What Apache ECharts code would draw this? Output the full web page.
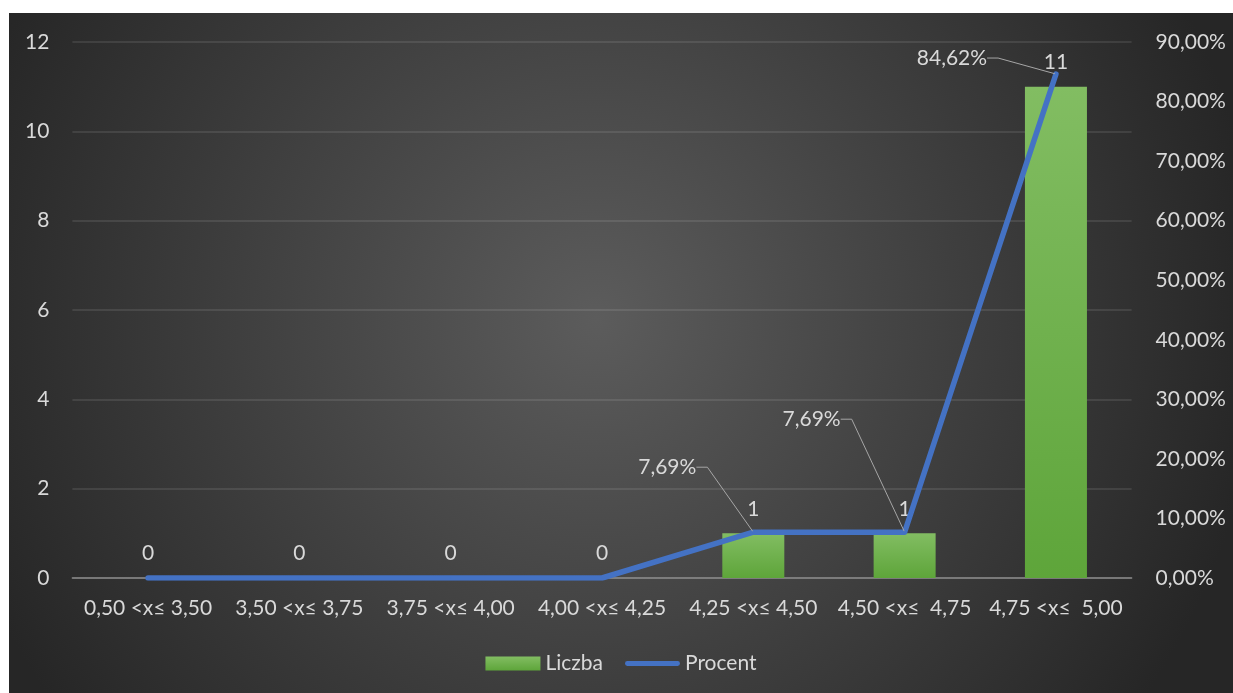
<!DOCTYPE html>
<html>
<head>
<meta charset="utf-8">
<script src="https://cdn.jsdelivr.net/npm/echarts@6/dist/echarts.min.js"></script>
<style>
  html, body { margin: 0; padding: 0; background: #ffffff; }
  #chart { position: absolute; left: 9px; top: 13px; width: 1224px; height: 680px; }
</style>
</head>
<body>
<div id="chart"></div>
<script>
var categories = ['0,50 <x≤ 3,50', '3,50 <x≤ 3,75', '3,75 <x≤ 4,00', '4,00 <x≤ 4,25', '4,25 <x≤ 4,50', '4,50 <x≤  4,75', '4,75 <x≤  5,00'];
var liczba = [0, 0, 0, 0, 1, 1, 11];
var procent = [0, 0, 0, 0, 0.0769, 0.0769, 0.8462];
var leftTicks = { min: 0, max: 12, interval: 2 };
var rightTicks = { min: 0, max: 0.9, interval: 0.1 };

// label offsets (px) from each point for the percent labels
var pctLabelOffsets = [[0,0],[0,0],[0,0],[0,0],[-86,-65],[-93,-113],[-104,-16]];

var FONT = 'Lato';
var FS = 21;
var TXT = '#d9d9d9';
function pctFmt(v) { return (v * 100).toFixed(2).replace('.', ',') + '%'; }

var chart = echarts.init(document.getElementById('chart'));
chart.setOption({
  backgroundColor: {
    type: 'radial', x: 0.48, y: 0.45, r: 0.98,
    colorStops: [{ offset: 0, color: '#5c5c5c' }, { offset: 1, color: '#262626' }]
  },
  textStyle: { fontFamily: FONT },
  grid: { left: 63.4, right: 101.4, top: 29, bottom: 115 },
  legend: {
    left: 'center', top: 635, itemWidth: 55, itemHeight: 14, itemGap: 22,
    textStyle: { color: TXT, fontSize: FS, fontFamily: FONT },
    data: [
      { name: 'Liczba', icon: 'rect' },
      { name: 'Procent', icon: 'path://M2.5,0 L54.5,0 A2.5,2.5 0 0 1 54.5,5 L2.5,5 A2.5,2.5 0 0 1 2.5,0 Z' }
    ]
  },
  xAxis: {
    type: 'category', data: categories,
    axisTick: { show: false },
    axisLine: { lineStyle: { color: '#8a8a8a', width: 1.5 } },
    axisLabel: { color: TXT, fontSize: FS, fontFamily: FONT, interval: 0, margin: 20 }
  },
  yAxis: [{
    type: 'value', min: leftTicks.min, max: leftTicks.max, interval: leftTicks.interval,
    axisLine: { show: false }, axisTick: { show: false },
    axisLabel: { color: TXT, fontSize: FS, fontFamily: FONT, margin: 23 },
    splitLine: { lineStyle: { color: 'rgba(255,255,255,0.13)', width: 1.5 } }
  }, {
    type: 'value', min: rightTicks.min, max: rightTicks.max, interval: rightTicks.interval,
    axisLine: { show: false }, axisTick: { show: false },
    axisLabel: { color: TXT, fontSize: FS, fontFamily: FONT, margin: 24, formatter: pctFmt },
    splitLine: { show: false }
  }],
  series: [{
    name: 'Liczba', type: 'bar', yAxisIndex: 0, barWidth: 62, z: 2,
    data: liczba,
    itemStyle: {
      color: { type: 'linear', x: 0, y: 0, x2: 0, y2: 1,
        colorStops: [{ offset: 0, color: '#82bd62' }, { offset: 1, color: '#5ea53a' }] }
    },
    label: { show: true, position: 'top', distance: 14, color: TXT, fontSize: FS, fontFamily: FONT }
  }, {
    name: 'Procent', type: 'line', yAxisIndex: 1, z: 5,
    data: procent.map(function (v) {
      return { value: v, label: { show: v > 0 }, labelLine: { show: v > 0 } };
    }),
    symbol: 'circle', symbolSize: 2, showSymbol: true,
    itemStyle: { color: '#4472c4' },
    lineStyle: { color: '#4472c4', width: 5.5, cap: 'round', join: 'round' },
    label: { show: true, color: TXT, fontSize: FS, fontFamily: FONT, padding: [0, 9], formatter: function (p) { return pctFmt(p.value); } },
    labelLine: { show: true, length2: 11, lineStyle: { color: '#a6a6a6', width: 1 } },
    labelLayout: function (p) {
      var off = pctLabelOffsets[p.dataIndex];
      return {
        x: p.rect.x + p.rect.width / 2 + off[0],
        y: p.rect.y + p.rect.height / 2 + off[1],
        align: 'center', verticalAlign: 'middle'
      };
    }
  }]
});
</script>
</body>
</html>
